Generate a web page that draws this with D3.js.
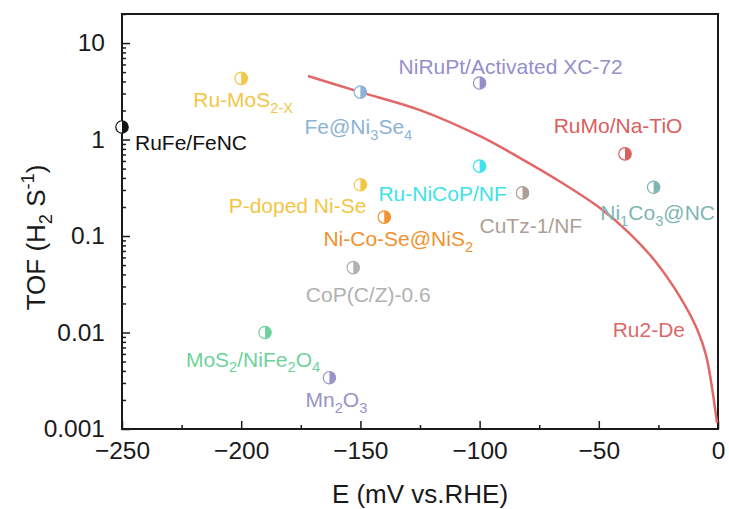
<!DOCTYPE html>
<html>
<head>
<meta charset="utf-8">
<script src="https://cdn.jsdelivr.net/npm/d3@7"></script>
<style>
  html, body { margin: 0; padding: 0; background: #ffffff; }
  svg { display: block; font-family: "Liberation Sans", Arial, sans-serif; }
</style>
</head>
<body>
<svg id="chart" width="729" height="509"></svg>
<script>
// Catalyst benchmarks: potential (mV vs. RHE) and turnover frequency (H2 s^-1)
const catalysts = [
  "RuFe/FeNC", "Ru-MoS_{2-X}", "Fe@Ni_{3}Se_{4}", "NiRuPt/Activated XC-72",
  "RuMo/Na-TiO", "Ni_{1}Co_{3}@NC", "Ru-NiCoP/NF", "CuTz-1/NF",
  "P-doped Ni-Se", "Ni-Co-Se@NiS_{2}", "CoP(C/Z)-0.6", "MoS_{2}/NiFe_{2}O_{4}", "Mn_{2}O_{3}"
];
const potentials = [-250, -200, -150, -100, -39, -27, -100, -82, -150, -140, -153, -190, -163];
const tofs = [1.35, 4.3, 3.1, 3.85, 0.71, 0.32, 0.53, 0.28, 0.34, 0.157, 0.047, 0.010, 0.0034];

// Ru2-De activity curve
const ru2dePotential = [-172, -150, -125, -100, -83, -66, -49.5, -37, -26.4, -15.9, -8.8, -5, -0.4];
const ru2deTof = [4.55, 3.1, 2.02, 1.09, 0.643, 0.363, 0.195, 0.106, 0.0551, 0.0233, 0.0109, 0.0058, 0.00115];
const ru2deName = "Ru2-De";

// Axis ticks
const xTicks = [-250, -200, -150, -100, -50, 0];
const xMinorTicks = [-225, -175, -125, -75, -25];
const yTicks = [0.001, 0.01, 0.1, 1, 10];

// Marker colours, one per catalyst
const colors = [
  "#111111", "#f3c646", "#8cb3d6", "#958fc9",
  "#d9605f", "#7fb6b3", "#3fe2ea", "#ad9f95",
  "#f3c646", "#f0922f", "#b1b1b1", "#6fd29b", "#9893c8"
];
// Label placement relative to each marker: [dx, dy (baseline), anchor]
const labelPlace = [
  [13, 23, "start"], [2, 29, "middle"], [-2, 42, "middle"], [-81, -9, "start"],
  [-7, -21, "middle"], [4, 33, "middle"], [-37, 35, "middle"], [-43, 40, "start"],
  [6, 28, "end"], [14, 29, "middle"], [15, 34, "middle"], [-12, 34, "middle"], [7, 29, "middle"]
];

const svg = d3.select("#chart");
const margin = { left: 122, top: 14, right: 11, bottom: 80 };
const W = 729 - margin.left - margin.right;
const H = 509 - margin.top - margin.bottom;
const g = svg.append("g").attr("transform", `translate(${margin.left},${margin.top})`);

const x = d3.scaleLinear().domain([-250, 0]).range([0, W]);
const y = d3.scaleLog().domain([0.001, 20]).range([H, 0]);

// minor ticks on log axis: 2..9 of each decade
const yMinor = [];
for (const d of [0.001, 0.01, 0.1, 1, 10]) {
  for (let k = 2; k <= 9; k++) if (k * d <= 20) yMinor.push(k * d);
}

const axisFont = 24.5;
const fmt = d3.format("~g");

// y axis
g.append("g").call(
  d3.axisLeft(y).tickValues(yTicks).tickFormat(fmt).tickSizeInner(-8).tickSizeOuter(0).tickPadding(17)
);
g.append("g").call(
  d3.axisLeft(y).tickValues(yMinor).tickFormat("").tickSizeInner(-4).tickSizeOuter(0)
);
// x axis
g.append("g").attr("transform", `translate(0,${H})`).call(
  d3.axisBottom(x).tickValues(xTicks).tickSizeInner(-8).tickSizeOuter(0).tickPadding(13)
);
g.append("g").attr("transform", `translate(0,${H})`).call(
  d3.axisBottom(x).tickValues(xMinorTicks).tickFormat("").tickSizeInner(-4).tickSizeOuter(0)
);
g.selectAll(".domain").remove();
g.selectAll(".tick line").attr("stroke", "#1a1a1a").attr("stroke-width", 1.5);
g.selectAll(".tick text")
  .attr("font-family", "'Liberation Sans', Arial, sans-serif")
  .attr("font-size", axisFont).attr("fill", "#1a1a1a");

// frame
g.append("rect").attr("width", W).attr("height", H)
  .attr("fill", "none").attr("stroke", "#1a1a1a").attr("stroke-width", 2);

// Ru2-De curve
const curvePts = ru2dePotential.map((e, i) => [e, ru2deTof[i]]);
g.append("path")
  .datum(curvePts)
  .attr("fill", "none")
  .attr("stroke", "#e26868")
  .attr("stroke-width", 2.5)
  .attr("d", d3.line().x(d => x(d[0])).y(d => y(d[1])).curve(d3.curveCatmullRom.alpha(0.5)));

g.append("text")
  .attr("x", x(-29)).attr("y", y(0.009))
  .attr("text-anchor", "middle")
  .attr("font-size", 21).attr("fill", "#db6a6a")
  .text(ru2deName);

// text with _{sub} and ^{sup} markup
function richText(sel, str, size) {
  const re = /([_^])\{([^}]*)\}|([^_^]+)/g;
  let m, shift = 0;
  while ((m = re.exec(str)) !== null) {
    if (m[3]) {
      const t = sel.append("tspan").text(m[3]).attr("font-size", size);
      if (shift !== 0) { t.attr("dy", -shift); shift = 0; }
    } else {
      const dy = m[1] === "_" ? size * 0.28 : -size * 0.42;
      sel.append("tspan").text(m[2]).attr("font-size", size * 0.7).attr("dy", dy - shift);
      shift = dy;
    }
  }
}

// labels
const labelSize = 21;
catalysts.forEach((name, i) => {
  const [dx, dy, anchor] = labelPlace[i];
  const t = g.append("text")
    .attr("x", x(potentials[i]) + dx)
    .attr("y", y(tofs[i]) + dy)
    .attr("text-anchor", anchor)
    .attr("fill", colors[i]);
  richText(t, name, labelSize);
});

// half-filled markers
const r = 6.2;
const halfArc = d3.arc().innerRadius(0).outerRadius(r).startAngle(0).endAngle(Math.PI);
const markers = g.append("g").selectAll("g")
  .data(catalysts.map((n, i) => i))
  .join("g")
  .attr("transform", i => `translate(${x(potentials[i])},${y(tofs[i])})`);
markers.append("circle").attr("r", r).attr("fill", "#ffffff")
  .attr("stroke", i => colors[i]).attr("stroke-width", 1.2);
markers.append("path").attr("d", halfArc()).attr("fill", i => colors[i]);

// axis titles
svg.append("text")
  .attr("x", margin.left + W / 2).attr("y", 503)
  .attr("text-anchor", "middle")
  .attr("font-size", 26).attr("fill", "#1a1a1a")
  .text("E (mV vs.RHE)");

const yt = svg.append("text")
  .attr("transform", `translate(45,${margin.top + H / 2 + 16}) rotate(-90)`)
  .attr("text-anchor", "middle")
  .attr("font-size", 26).attr("fill", "#1a1a1a");
richText(yt, "TOF (H_{2} S^{-1})", 26);
</script>
</body>
</html>
